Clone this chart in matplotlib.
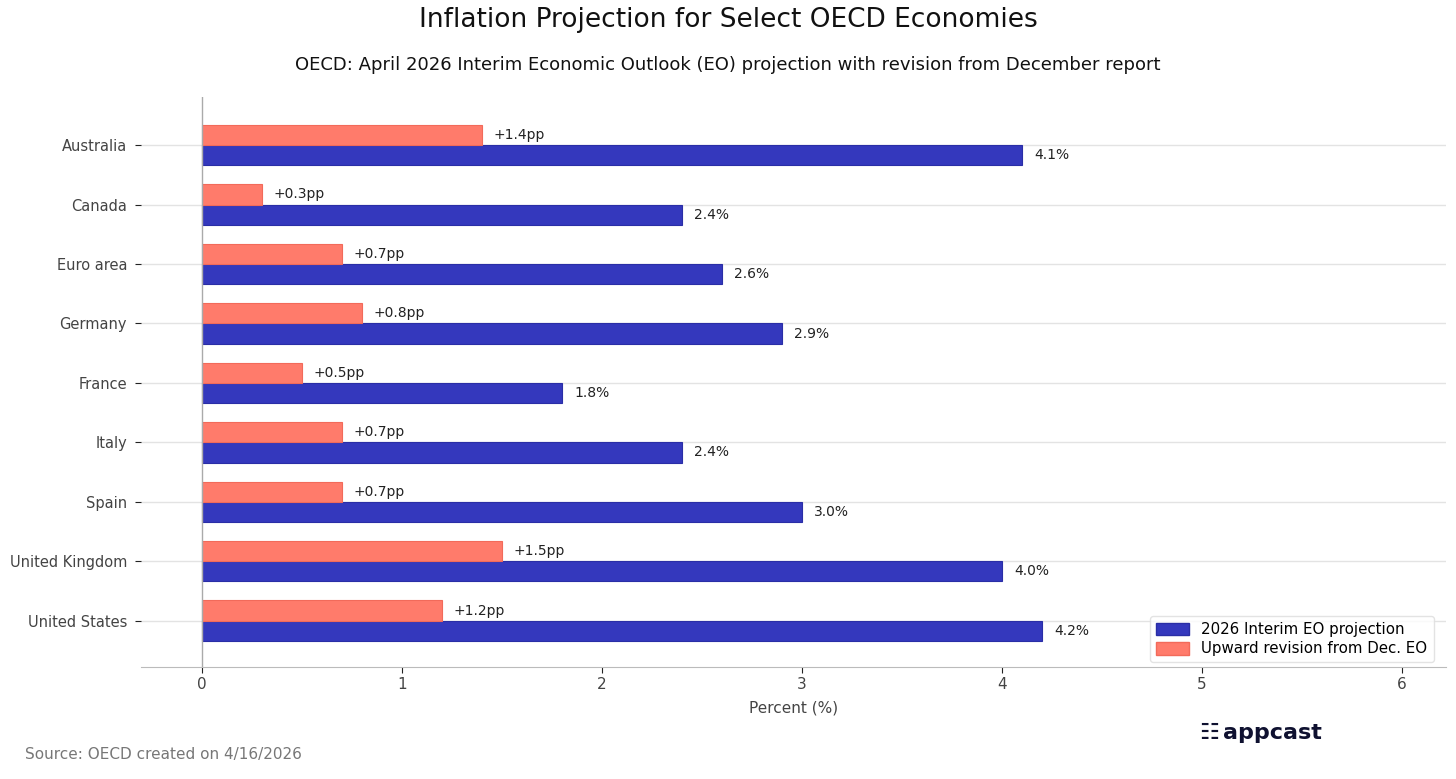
import numpy as np
import matplotlib
matplotlib.use("Agg")
import matplotlib.pyplot as plt
from matplotlib.patches import Patch

plt.rcParams['font.family'] = ['DejaVu Sans']

countries = ['Australia', 'Canada', 'Euro area', 'Germany', 'France', 'Italy',
             'Spain', 'United Kingdom', 'United States']
projection = [4.1, 2.4, 2.6, 2.9, 1.8, 2.4, 3.0, 4.0, 4.2]
revision = [1.4, 0.3, 0.7, 0.8, 0.5, 0.7, 0.7, 1.5, 1.2]

blue = '#3438bd'
salmon = '#ff7b6b'

fig = plt.figure(figsize=(14.56, 7.79), dpi=100)
ax = fig.add_axes([0.0968, 0.1438, 0.8963, 0.7317])

y = np.arange(len(countries))
h = 0.34
ax.barh(y + h / 2, projection, height=h, color=blue, edgecolor='#2a2ea6', linewidth=0.8,
        label='2026 Interim EO projection', zorder=3)
ax.barh(y - h / 2, revision, height=h, color=salmon, edgecolor='#f26a5a', linewidth=0.8,
        label='Upward revision from Dec. EO', zorder=3)

for yi, v in zip(y, projection):
    ax.text(v + 0.06, yi + h / 2, f'{v:.1f}%', va='center', ha='left', fontsize=10, color='#222222')
for yi, v in zip(y, revision):
    ax.text(v + 0.06, yi - h / 2, f'+{v:.1f}pp', va='center', ha='left', fontsize=10, color='#222222')

ax.set_yticks(y)
ax.set_yticklabels(countries, fontsize=10.5, color='#444444')
ax.set_ylim(len(countries) - 1 + 0.78, -0.81)
ax.set_xlim(-0.305, 6.22)
ax.set_xticks(range(0, 7))
ax.tick_params(axis='x', labelsize=11, colors='#444444', length=4, color='#222222')
ax.tick_params(axis='y', length=4, color='#222222', pad=6)
ax.set_xlabel('Percent (%)', fontsize=11, color='#444444', labelpad=6)

ax.grid(axis='y', color='#e3e3e3', linewidth=1, zorder=0)
ax.axvline(0, color='#aaaaaa', linewidth=1, zorder=4)
for s in ['top', 'right', 'left']:
    ax.spines[s].set_visible(False)
ax.spines['bottom'].set_color('#bbbbbb')

handles = [Patch(facecolor=blue, edgecolor='#2a2ea6'), Patch(facecolor=salmon, edgecolor='#f26a5a')]
ax.legend(handles, ['2026 Interim EO projection', 'Upward revision from Dec. EO'],
          loc='lower right', fontsize=10.8, frameon=True, edgecolor='#dddddd',
          handlelength=2.2, handleheight=0.9, borderpad=0.4, labelspacing=0.3,
          borderaxespad=0.3, bbox_to_anchor=(0.994, 0.0))

fig.text(0.5, 0.974, 'Inflation Projection for Select OECD Economies', ha='center', va='center',
         fontsize=19, color='#111111')
fig.text(0.5, 0.916, 'OECD: April 2026 Interim Economic Outlook (EO) projection with revision from December report',
         ha='center', va='center', fontsize=13, color='#111111')
fig.text(0.017, 0.031, 'Source: OECD created on 4/16/2026', ha='left', va='center',
         fontsize=11, color='#777777')
fig.text(0.8235, 0.059, '\u2637', ha='left', va='center', fontsize=16, color='#0f1130')
fig.text(0.840, 0.059, 'appcast', ha='left', va='center', fontsize=16, fontweight='bold',
         color='#0f1130')

fig.savefig('out.png', dpi=100)
